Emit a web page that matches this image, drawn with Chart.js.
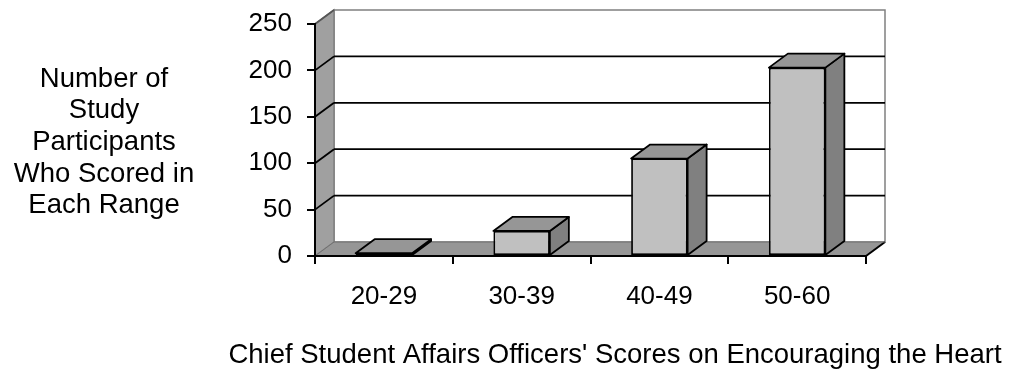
<!DOCTYPE html>
<html>
<head>
<meta charset="utf-8">
<script src="https://cdn.jsdelivr.net/npm/chart.js@4/dist/chart.umd.min.js"></script>
<style>
  html, body { margin: 0; padding: 0; background: #fff; }
  #wrap { width: 1013px; height: 370px; }
</style>
</head>
<body>
<div id="wrap"><canvas id="chart" width="1013" height="370"></canvas></div>
<script>
// Score ranges and number of participants in each range
const categories = ['20-29', '30-39', '40-49', '50-60'];
const participants = [3, 27, 105, 203];

// Value axis
const yMin = 0;
const yMax = 250;
const yStep = 50;

// Axis titles
const yTitleLines = ['Number of', 'Study', 'Participants', 'Who Scored in', 'Each Range'];
const xTitle = "Chief Student Affairs Officers' Scores on Encouraging the Heart";

// 3D depth offset of the plot box
const DEPTH_X = 19;
const DEPTH_Y = -14;

const FONT = '"Liberation Sans", Arial, sans-serif';

function poly(ctx, pts, fill, stroke, lw) {
  ctx.beginPath();
  ctx.moveTo(pts[0][0], pts[0][1]);
  for (let i = 1; i < pts.length; i++) ctx.lineTo(pts[i][0], pts[i][1]);
  ctx.closePath();
  if (fill) { ctx.fillStyle = fill; ctx.fill(); }
  if (stroke) { ctx.strokeStyle = stroke; ctx.lineWidth = lw || 1; ctx.stroke(); }
}

function line(ctx, x1, y1, x2, y2, color, lw) {
  ctx.beginPath();
  ctx.moveTo(x1, y1);
  ctx.lineTo(x2, y2);
  ctx.strokeStyle = color;
  ctx.lineWidth = lw;
  ctx.stroke();
}

// Walls, floor and gridlines behind the columns
const boxPlugin = {
  id: 'box3d',
  beforeDraw(chart) {
    const ctx = chart.ctx;
    const a = chart.chartArea;
    const ys = chart.scales.y;
    const L = a.left, R = a.right, T = a.top, B = a.bottom;
    const dx = DEPTH_X, dy = DEPTH_Y;
    ctx.save();
    ctx.lineJoin = 'miter';
    // back wall
    poly(ctx, [[L + dx, T + dy], [R + dx, T + dy], [R + dx, B + dy], [L + dx, B + dy]], '#ffffff', '#808080', 1.5);
    // left side wall
    poly(ctx, [[L, T], [L + dx, T + dy], [L + dx, B + dy], [L, B]], '#a0a0a0', '#808080', 1.5);
    // floor
    poly(ctx, [[L, B], [R, B], [R + dx, B + dy], [L + dx, B + dy]], '#969696', null);
    line(ctx, R, B, R + dx, B + dy, '#000', 2);
    line(ctx, L + dx, B + dy, R + dx, B + dy, '#6e6e6e', 1);
    line(ctx, L, B, L + dx, B + dy, '#707070', 1);
    // gridlines on the back and side walls
    for (let v = yMin + yStep; v <= yMax; v += yStep) {
      const py = ys.getPixelForValue(v);
      const col = v === yMax ? '#555' : '#000';
      if (v < yMax) line(ctx, L + dx, py + dy, R + dx, py + dy, col, 1.8);
      line(ctx, L, py, L + dx, py + dy, col, 1.8);
    }
    ctx.restore();
  },
  // top and side faces of each column
  afterDatasetsDraw(chart) {
    const ctx = chart.ctx;
    const meta = chart.getDatasetMeta(0);
    const dx = DEPTH_X, dy = DEPTH_Y;
    ctx.save();
    ctx.lineJoin = 'round';
    meta.data.forEach((bar) => {
      const p = bar.getProps(['x', 'y', 'width', 'base'], true);
      const l = p.x - p.width / 2, r = p.x + p.width / 2;
      const top = Math.min(p.y, p.base), bot = Math.max(p.y, p.base);
      poly(ctx, [[r, top], [r + dx, top + dy], [r + dx, bot + dy], [r, bot]], '#808080', '#000', 1.8);
      poly(ctx, [[l, top], [r, top], [r + dx, top + dy], [l + dx, top + dy]], '#969696', '#000', 1.8);
    });
    ctx.restore();
  },
  // horizontal axis titles
  afterDraw(chart) {
    const ctx = chart.ctx;
    ctx.save();
    ctx.fillStyle = '#000';
    ctx.font = '27.5px ' + FONT;
    ctx.textAlign = 'center';
    ctx.textBaseline = 'alphabetic';
    yTitleLines.forEach((t, i) => ctx.fillText(t, 104, 86.7 + i * 31.65));
    ctx.fillText(xTitle, 615, 363);
    ctx.restore();
  }
};

new Chart(document.getElementById('chart'), {
  type: 'bar',
  data: {
    labels: categories,
    datasets: [{
      data: participants,
      backgroundColor: '#c0c0c0',
      borderColor: '#000000',
      borderWidth: 1.8,
      borderSkipped: false,
      categoryPercentage: 1.0,
      barPercentage: 0.41
    }]
  },
  options: {
    responsive: false,
    animation: false,
    devicePixelRatio: 1,
    layout: { padding: { left: 0, right: 147, top: 24, bottom: 0 } },
    plugins: { legend: { display: false }, tooltip: { enabled: false } },
    scales: {
      x: {
        offset: true,
        afterFit(scale) { scale.height = 114; scale.paddingLeft = 0; scale.paddingRight = 0; },
        grid: { offset: true, drawOnChartArea: false, drawTicks: true, tickLength: 8, color: '#000', lineWidth: 2 },
        border: { display: true, color: '#000', width: 2 },
        ticks: { color: '#000', font: { family: FONT, size: 26 }, padding: 17, maxRotation: 0 }
      },
      y: {
        min: yMin,
        max: yMax,
        afterFit(scale) { scale.width = 315; scale.paddingTop = 0; scale.paddingBottom = 0; },
        grid: { drawOnChartArea: false, drawTicks: true, tickLength: 8, color: '#000', lineWidth: 2 },
        border: { display: true, color: '#000', width: 2 },
        ticks: { stepSize: yStep, color: '#000', font: { family: FONT, size: 26 }, padding: 15 }
      }
    }
  },
  plugins: [boxPlugin]
});
</script>
</body>
</html>
